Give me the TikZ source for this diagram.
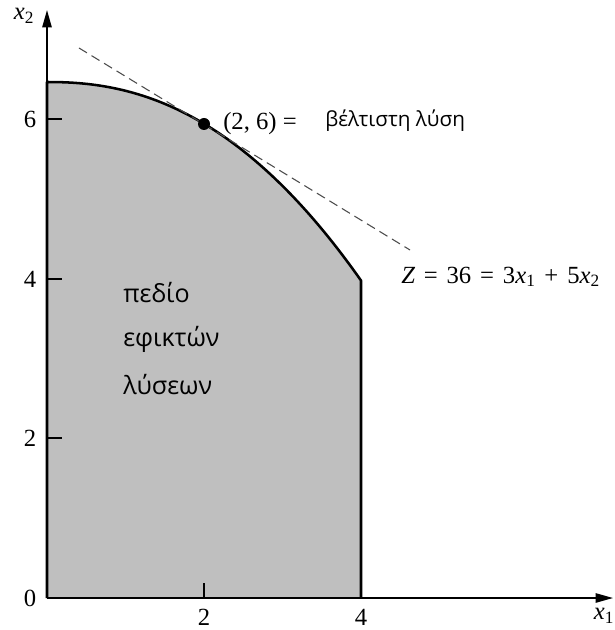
\documentclass[tikz,border=0pt]{standalone}
\usepackage{fontspec}
\setmainfont{Liberation Serif}
\newfontfamily\grk{Open Sans}
\usetikzlibrary{arrows.meta}
\newcommand{\wsp}{\hspace{0.36em}}
\begin{document}
\begin{tikzpicture}[x=0.75pt,y=-0.75pt,
  lbl/.style={font=\fontsize{18.5}{22}\selectfont, inner sep=0pt},
  glbl/.style={font=\grk\fontsize{15.5}{19}\selectfont, inner sep=0pt, anchor=west},
  gblock/.style={font=\grk\fontsize{18.8}{22}\selectfont, inner sep=0pt, anchor=west},
  axisline/.style={line width=1.1pt, -{Triangle[length=13pt,width=7pt]}},
  tickline/.style={line width=0.8pt},
  border/.style={line width=1.9pt, line join=round},
  tangent/.style={draw=black!70, line width=0.8pt, dash pattern=on 7pt off 4pt}]
\useasboundingbox (0,0) rectangle (614,630);
% key points
\coordinate (O) at (47,598);
\coordinate (Ytip) at (47,10);
\coordinate (Xtip) at (613,598);
\coordinate (Top) at (47,82);
\coordinate (Foot) at (361,598);
% feasible region
\fill[black!25] (O) -- (Top)
  -- plot[domain=0:4, samples=60, smooth]
     ({47+78.5*\x}, {598-79.75*(6.47-0.110*\x*\x*sqrt(sqrt(\x)))})
  -- (Foot) -- cycle;
% axes
\draw[axisline] (O) -- (Ytip);
\draw[axisline] (O) -- (Xtip);
% ticks
\coordinate (t6) at (47,119); \coordinate (t6e) at (62,119);
\coordinate (t4) at (47,279); \coordinate (t4e) at (62,279);
\coordinate (t2) at (47,438); \coordinate (t2e) at (62,438);
\coordinate (tx2) at (204,598); \coordinate (tx2e) at (204,583);
\draw[tickline] (t6) -- (t6e) (t4) -- (t4e) (t2) -- (t2e) (tx2) -- (tx2e);
% region border
\draw[border] (O) -- (Top)
  -- plot[domain=0:4, samples=60, smooth]
     ({47+78.5*\x}, {598-79.75*(6.47-0.110*\x*\x*sqrt(sqrt(\x)))})
  -- (Foot);
% tangent line
\coordinate (d1) at (79,48);
\coordinate (d2) at (410,250);
\draw[tangent] (d1) -- (d2);
% optimum
\node[circle, fill=black, inner sep=0pt, minimum size=9pt] (opt) at (204,124) {};
% labels
\node[lbl] (x2lab) at (24,16) {\itshape x\textsubscript{\upshape 2}};
\node[lbl] (x1lab) at (604,616) {\itshape x\textsubscript{\upshape 1}};
\node[lbl] (l6) at (30,119) {6};
\node[lbl] (l4) at (30,279) {4};
\node[lbl] (l2) at (30,438) {2};
\node[lbl] (l0) at (30,598) {0};
\node[lbl] (lx2) at (204,617) {2};
\node[lbl] (lx4) at (361,617) {4};
\node[lbl, anchor=west] (pt) at (223,124) {(2, 6) =};
\node[glbl] (best) at (325,121) {βέλτιστη λύση};
\node[lbl, anchor=west] (zlab) at (401,277) {\itshape Z\upshape\wsp=\wsp36\wsp=\wsp3\itshape x\textsubscript{\upshape 1}\upshape\wsp+\wsp5\itshape x\textsubscript{\upshape 2}};
\node[gblock] (g1) at (123,293) {πεδίο};
\node[gblock] (g2) at (123,339) {εφικτών};
\node[gblock] (g3) at (123,385) {λύσεων};
\end{tikzpicture}
\end{document}
